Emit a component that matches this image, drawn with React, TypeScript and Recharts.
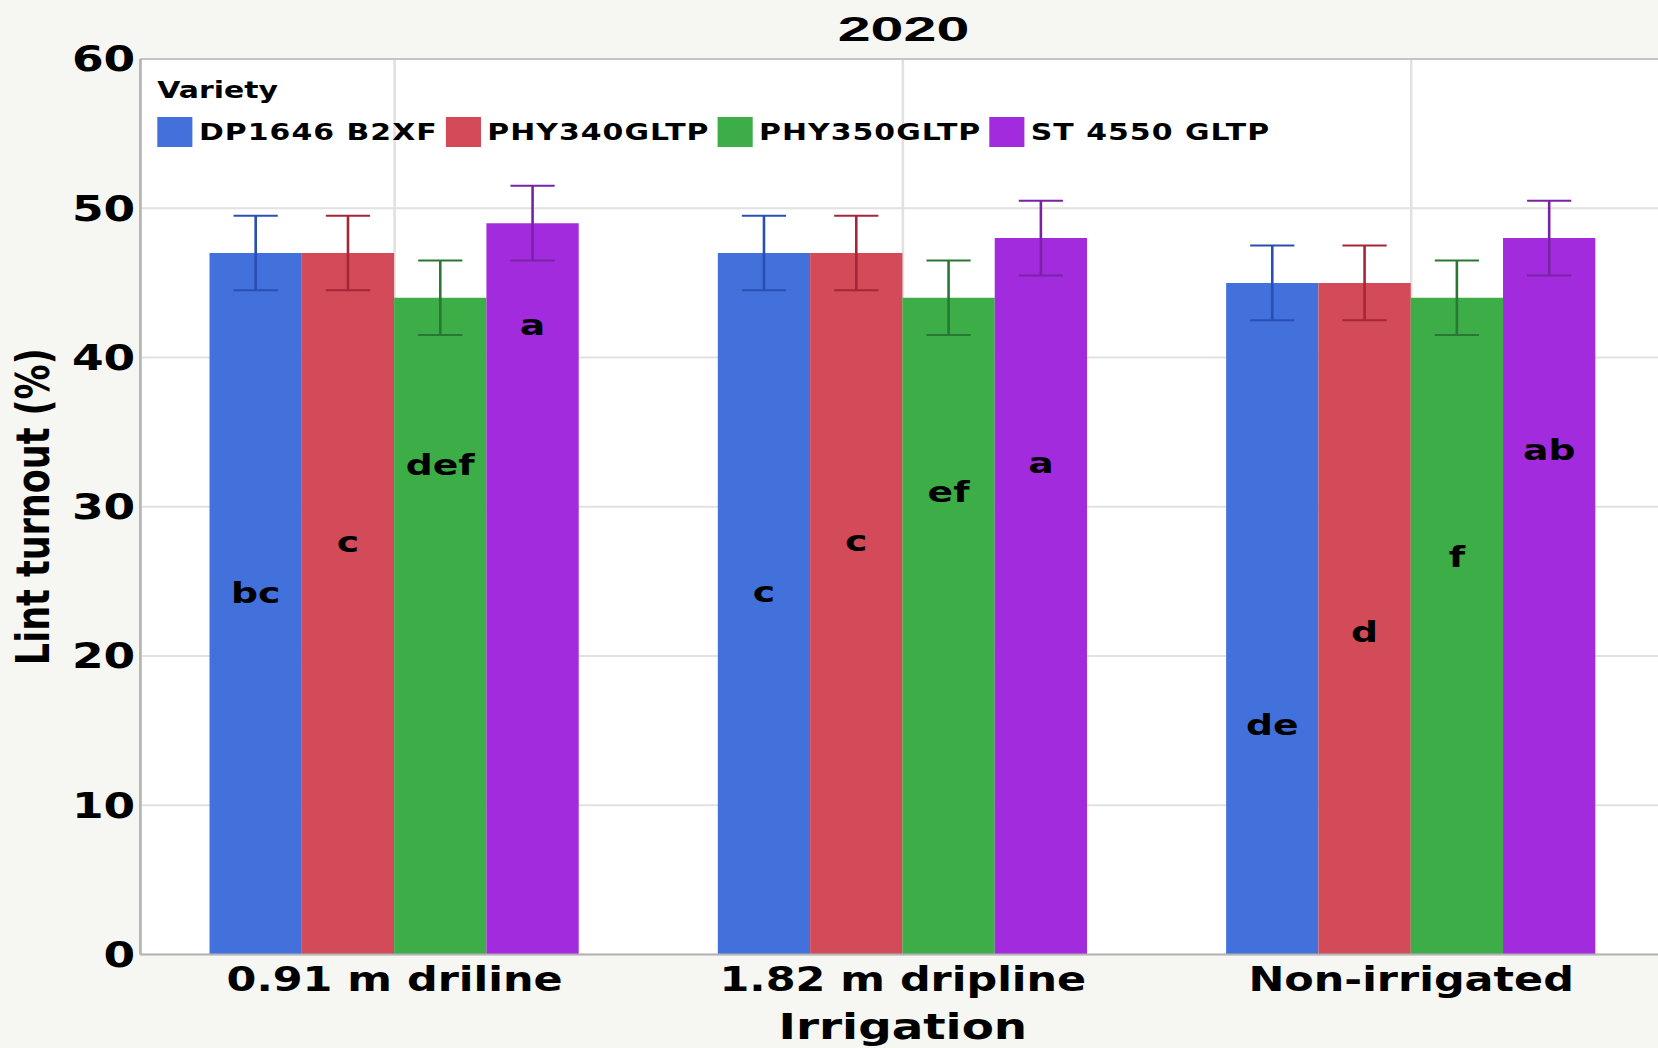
import {
  BarChart, Bar, XAxis, YAxis, CartesianGrid, Legend, ErrorBar, LabelList, ReferenceLine,
} from "recharts"

// horizontal stretch applied to the whole figure
const STRETCH = 1.3
const CHART_W = 1281
const CHART_H = 1048

const irrigation = ["0.91 m driline", "1.82 m dripline", "Non-irrigated"]
const varieties = ["DP1646 B2XF", "PHY340GLTP", "PHY350GLTP", "ST 4550 GLTP"]
const yTicks = [0, 10, 20, 30, 40, 50, 60]

// lint turnout means (%)
const dp1646 = [47, 47, 45]
const phy340 = [47, 47, 45]
const phy350 = [44, 44, 44]
const st4550 = [49, 48, 48]

// error bar half-lengths
const dp1646Err = [2.5, 2.5, 2.5]
const phy340Err = [2.5, 2.5, 2.5]
const phy350Err = [2.5, 2.5, 2.5]
const st4550Err = [2.5, 2.5, 2.5]

// mean separation letters and the height (%) they sit at
const dp1646Letters = ["bc", "c", "de"]
const phy340Letters = ["c", "c", "d"]
const phy350Letters = ["def", "ef", "f"]
const st4550Letters = ["a", "a", "ab"]
const dp1646LetterAt = [24.2, 24.3, 15.4]
const phy340LetterAt = [27.6, 27.7, 21.6]
const phy350LetterAt = [32.8, 31.0, 26.6]
const st4550LetterAt = [42.2, 32.9, 33.8]

const rows = irrigation.map((name, i) => ({
  name,
  dp: dp1646[i], dpErr: dp1646Err[i], dpLet: dp1646Letters[i],
  phy340: phy340[i], phy340Err: phy340Err[i], phy340Let: phy340Letters[i],
  phy350: phy350[i], phy350Err: phy350Err[i], phy350Let: phy350Letters[i],
  st: st4550[i], stErr: st4550Err[i], stLet: st4550Letters[i],
}))

const FONT = '"DejaVu Sans", Verdana, sans-serif'

function letterLabel(values: number[], spots: number[]) {
  return (props: any) => {
    const { x, y, width, height, index, value } = props
    // bar spans 0..value, so place the letter by the same pixel-per-unit ratio
    const ly = y + height - (spots[index] / values[index]) * height
    return (
      <text x={x + width / 2} y={ly} textAnchor="middle" dominantBaseline="central"
        fontFamily={FONT} fontWeight="bold" fontSize={29} fill="#000">
        {value}
      </text>
    )
  }
}

function VarietyLegend({ payload }: any) {
  return (
    <div style={{ fontFamily: FONT, fontWeight: "bold", color: "#000" }}>
      <div style={{ fontSize: 23, lineHeight: "23px", height: 38 }}>Variety</div>
      <div style={{ display: "flex", alignItems: "center" }}>
        {(payload || []).map((p: any) => (
          <div key={p.value} style={{ display: "flex", alignItems: "center", marginRight: 6 }}>
            <div style={{ width: 27, height: 30, background: p.color, marginRight: 5 }} />
            <span style={{ fontSize: 23, lineHeight: "30px", letterSpacing: 0.8, whiteSpace: "nowrap" }}>{p.value}</span>
          </div>
        ))}
      </div>
    </div>
  )
}

export default function App() {
  return (
    <div style={{ position: "absolute", left: 0, top: 0, width: 1658, height: 1048, overflow: "hidden", background: "#f6f6f2" }}>
      <div style={{ position: "relative", width: CHART_W, height: CHART_H, transform: `scaleX(${STRETCH})`, transformOrigin: "0 0" }}>
        <div style={{
          position: "absolute", left: 694.5, top: 28, zIndex: 1, whiteSpace: "nowrap",
          transform: "translate(-50%, -50%) scaleX(1.3)",
          fontFamily: '"Liberation Sans", Arial, sans-serif', fontWeight: "bold", fontSize: 35, lineHeight: 1,
        }}>2020</div>
        <BarChart width={CHART_W} height={CHART_H} data={rows}
          margin={{ top: 59, right: 0, left: 0, bottom: 0 }} barCategoryGap="13.6%" barGap={0}>
          <CartesianGrid fill="#fff" stroke="#e1e1e1" strokeWidth={2} />
          <ReferenceLine y={60} stroke="#c4c4c4" strokeWidth={2} />
          <XAxis dataKey="name" height={93.5} tickLine={false} tickSize={0} tickMargin={13.5}
            axisLine={{ stroke: "#b4b4b4", strokeWidth: 2 }}
            tick={{ fontFamily: FONT, fontWeight: "bold", fontSize: 33, fill: "#000" }}
            label={{ value: "Irrigation", position: "insideBottom", offset: 9,
              style: { fontFamily: FONT, fontWeight: "bold", fontSize: 36, fill: "#000" } }} />
          <YAxis type="number" domain={[0, 60]} ticks={yTicks} interval={0} width={108}
            tickLine={false} tickSize={0} tickMargin={4}
            axisLine={{ stroke: "#b4b4b4", strokeWidth: 2 }}
            tick={{ fontFamily: FONT, fontWeight: "bold", fontSize: 35, fill: "#000" }}
            label={{ value: "Lint turnout (%)", angle: -90, position: "insideLeft", offset: 25,
              style: { textAnchor: "middle", fontFamily: FONT, fontWeight: "bold", fontSize: 35, fill: "#000" } }} />
          <Legend layout="horizontal" verticalAlign="middle" align="center"
            wrapperStyle={{ top: 79, left: 121, width: "auto", height: "auto" }}
            content={<VarietyLegend />} />
          <Bar dataKey="dp" name={varieties[0]} fill="#4371dc" isAnimationActive={false}>
            <ErrorBar dataKey="dpErr" width={17} stroke="#2a4fb3" strokeWidth={2} direction="y" />
            <LabelList dataKey="dpLet" content={letterLabel(dp1646, dp1646LetterAt)} />
          </Bar>
          <Bar dataKey="phy340" name={varieties[1]} fill="#d34b58" isAnimationActive={false}>
            <ErrorBar dataKey="phy340Err" width={17} stroke="#a52637" strokeWidth={2} direction="y" />
            <LabelList dataKey="phy340Let" content={letterLabel(phy340, phy340LetterAt)} />
          </Bar>
          <Bar dataKey="phy350" name={varieties[2]} fill="#3dad47" isAnimationActive={false}>
            <ErrorBar dataKey="phy350Err" width={17} stroke="#2a7734" strokeWidth={2} direction="y" />
            <LabelList dataKey="phy350Let" content={letterLabel(phy350, phy350LetterAt)} />
          </Bar>
          <Bar dataKey="st" name={varieties[3]} fill="#a22bdd" isAnimationActive={false}>
            <ErrorBar dataKey="stErr" width={17} stroke="#7a22a6" strokeWidth={2} direction="y" />
            <LabelList dataKey="stLet" content={letterLabel(st4550, st4550LetterAt)} />
          </Bar>
        </BarChart>
      </div>
    </div>
  )
}
